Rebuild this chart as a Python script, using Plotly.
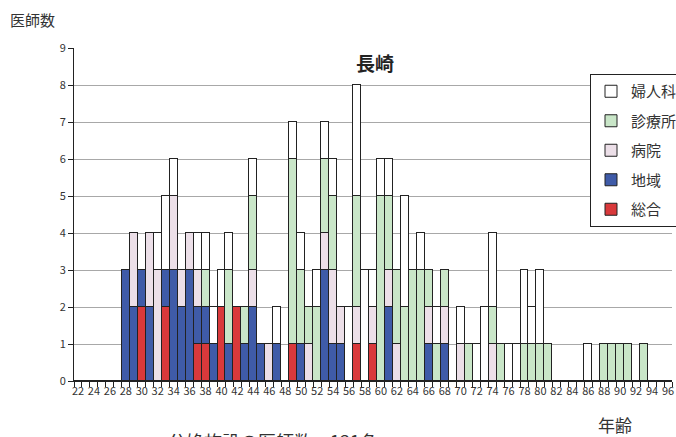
import plotly.graph_objects as go

ages = list(range(22, 97))

# values per age 22..96, grouped: 22-29 | 30-39 | 40-49 | 50-59 | 60-69 | 70-79 | 80-89 | 90-96
sogo = ([0, 0, 0, 0, 0, 0, 0, 0]
        + [2, 0, 0, 2, 0, 0, 0, 1, 1, 0]
        + [2, 0, 2, 0, 0, 0, 0, 0, 0, 1]
        + [0, 0, 0, 0, 0, 0, 0, 1, 0, 1]
        + [0, 0, 0, 0, 0, 0, 0, 0, 0, 0]
        + [0, 0, 0, 0, 0, 0, 0, 0, 0, 0]
        + [0, 0, 0, 0, 0, 0, 0, 0, 0, 0]
        + [0, 0, 0, 0, 0, 0, 0])
chiiki = ([0, 0, 0, 0, 0, 0, 3, 2]
          + [1, 2, 0, 1, 3, 2, 3, 1, 1, 1]
          + [0, 1, 0, 1, 2, 1, 0, 1, 0, 0]
          + [1, 0, 0, 3, 1, 1, 0, 0, 0, 0]
          + [0, 2, 0, 0, 0, 0, 1, 0, 1, 0]
          + [0, 0, 0, 0, 0, 0, 0, 0, 0, 0]
          + [0, 0, 0, 0, 0, 0, 0, 0, 0, 0]
          + [0, 0, 0, 0, 0, 0, 0])
byoin = ([0, 0, 0, 0, 0, 0, 0, 2]
         + [0, 2, 3, 0, 2, 1, 1, 1, 0, 0]
         + [0, 0, 0, 0, 1, 0, 1, 0, 0, 0]
         + [0, 1, 0, 1, 2, 1, 0, 1, 0, 1]
         + [0, 1, 1, 0, 0, 0, 1, 0, 1, 0]
         + [1, 0, 0, 0, 1, 0, 0, 0, 0, 0]
         + [0, 0, 0, 0, 0, 0, 0, 0, 0, 0]
         + [0, 0, 0, 0, 0, 0, 0])
shinryojo = ([0, 0, 0, 0, 0, 0, 0, 0]
             + [0, 0, 0, 0, 0, 0, 0, 0, 1, 0]
             + [0, 2, 0, 1, 2, 0, 0, 0, 0, 5]
             + [2, 1, 2, 2, 2, 0, 0, 3, 0, 0]
             + [5, 2, 2, 2, 3, 3, 1, 1, 1, 0]
             + [0, 1, 0, 0, 1, 1, 0, 0, 1, 1]
             + [1, 1, 0, 0, 0, 0, 0, 0, 1, 1]
             + [1, 1, 0, 1, 0, 0, 0])
fujinka = ([0, 0, 0, 0, 0, 0, 0, 0]
           + [0, 0, 1, 2, 1, 0, 0, 1, 1, 1]
           + [1, 1, 0, 0, 1, 0, 0, 1, 0, 1]
           + [1, 0, 1, 1, 1, 0, 2, 3, 3, 1]
           + [1, 1, 0, 3, 0, 1, 0, 1, 0, 0]
           + [1, 0, 1, 2, 2, 0, 1, 1, 2, 1]
           + [2, 0, 0, 0, 0, 0, 1, 0, 0, 0]
           + [0, 0, 0, 0, 0, 0, 0])

series = [
    ("総合", sogo, "#d9393b"),
    ("地域", chiiki, "#3f5ba8"),
    ("病院", byoin, "#ecdfe8"),
    ("診療所", shinryojo, "#c9e6c8"),
    ("婦人科", fujinka, "#ffffff"),
]

JP = "Noto Sans CJK JP"

fig = go.Figure()
for i, (name, vals, col) in enumerate(series):
    fig.add_trace(go.Bar(
        x=ages, y=vals, name=name, legendgroup=name, legendrank=len(series) - i,
        marker=dict(color=col, line=dict(color="#222222", width=1)),
    ))

W, H = 676, 437
L, R, T, B = 74, 4, 48, 56
pw = W - L - R
ph = H - T - B

def px(x):
    return (x - L) / pw

def py(y):
    return (H - B - y) / ph

fig.update_layout(
    width=W, height=H,
    margin=dict(l=L, r=R, t=T, b=B, autoexpand=False),
    barmode="stack", bargap=0,
    paper_bgcolor="white", plot_bgcolor="white",
    font=dict(family=JP, size=11, color="#333333"),
    showlegend=True,
    legend=dict(
        xref="container", yref="container",
        x=590 / W, y=1 - 74 / H, xanchor="left", yanchor="top",
        traceorder="grouped", tracegroupgap=7,
        bgcolor="white", bordercolor="#222222", borderwidth=1,
        font=dict(family=JP, size=15, color="#333333"),
        itemwidth=30,
    ),
    xaxis=dict(
        range=[21.5, 96.5],
        tickmode="array", tickvals=ages[::2], ticktext=[str(a) for a in ages[::2]],
        ticks="", showgrid=False, zeroline=False,
        showline=True, linecolor="#222222", linewidth=1,
        minor=dict(tickmode="array", tickvals=[a - 0.5 for a in ages] + [96.5],
                   ticks="outside", ticklen=5, tickcolor="#222222", showgrid=False),
        tickfont=dict(family=JP, size=11, color="#333333"),
        fixedrange=True,
    ),
    yaxis=dict(
        range=[0, 9], dtick=1, tick0=0,
        ticks="outside", ticklen=5, tickcolor="#222222",
        showgrid=True, gridcolor="#a8a8a8", gridwidth=1,
        zeroline=False,
        showline=True, linecolor="#222222", linewidth=1,
        tickfont=dict(family=JP, size=11, color="#333333"),
        fixedrange=True,
    ),
    annotations=[
        dict(text="医師数", xref="paper", yref="paper", x=px(8), y=py(19),
             xanchor="left", yanchor="middle", showarrow=False,
             font=dict(family=JP, size=15, color="#333333")),
        dict(text="<b>長崎</b>", xref="paper", yref="paper", x=px(375), y=py(62),
             xanchor="center", yanchor="middle", showarrow=False,
             font=dict(family=JP, size=19, color="#222222")),
        dict(text="年齢", xref="paper", yref="paper", x=px(615), y=py(424),
             xanchor="center", yanchor="middle", showarrow=False,
             font=dict(family=JP, size=17, color="#333333")),
        dict(text="分娩施設の医師数　131名", xref="paper", yref="paper", x=px(166), y=py(426),
             xanchor="left", yanchor="top", showarrow=False,
             font=dict(family=JP, size=18, color="#333333")),
    ],
)

fig.write_html(
    "out.html",
    config={"displayModeBar": False},
    post_script="document.body.style.margin='0';document.documentElement.style.overflow='hidden';",
)
